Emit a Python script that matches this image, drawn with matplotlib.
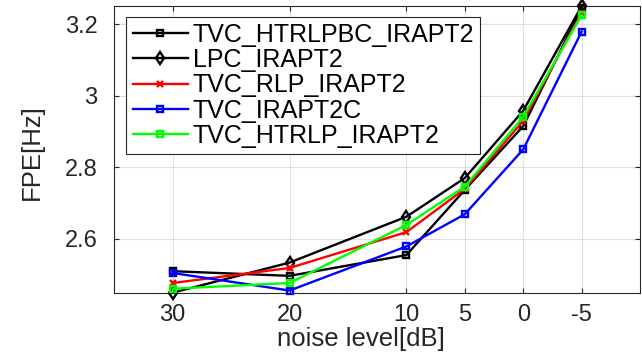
import numpy as np
import matplotlib
matplotlib.use('Agg')
import matplotlib.pyplot as plt
from matplotlib.ticker import FormatStrFormatter

plt.rcParams['font.family'] = ['Liberation Sans', 'DejaVu Sans']

# noise levels (SNR in dB), plotted from clean to noisy
snr = [30, 20, 10, 5, 0, -5]
snrLabels = ['30', '20', '10', '5', '0', '-5']

# FPE per method
fpe_htrlpbc = [2.510, 2.497, 2.555, 2.737, 2.915, 3.245]
fpe_lpc     = [2.450, 2.534, 2.662, 2.770, 2.958, 3.250]
fpe_rlp     = [2.477, 2.519, 2.619, 2.740, 2.930, 3.232]
fpe_irapt2c = [2.505, 2.456, 2.579, 2.669, 2.850, 3.179]
fpe_htrlp   = [2.461, 2.477, 2.639, 2.746, 2.941, 3.225]

series = [
    ('TVC_HTRLPBC_IRAPT2', fpe_htrlpbc, 'k', 's'),
    ('LPC_IRAPT2', fpe_lpc, 'k', 'd'),
    ('TVC_RLP_IRAPT2', fpe_rlp, (1, 0, 0), 'x'),
    ('TVC_IRAPT2C', fpe_irapt2c, (0, 0, 1), 's'),
    ('TVC_HTRLP_IRAPT2', fpe_htrlp, (0, 1, 0), 's'),
]

axColor = '0.15'

fig = plt.figure(figsize=(6.42, 3.6), dpi=100)
ax = fig.add_axes([0.178, 0.187, 0.819, 0.796])

# x axis runs from high SNR to low SNR, so plot against -snr
xpos = -np.array(snr)
for name, vals, col, mk in series:
    ax.plot(xpos, vals, color=col, lw=1.7, marker=mk,
            ms=6 if mk == 'd' else 5, mfc='none', mec=col, mew=1.7,
            label=name, clip_on=False, zorder=3)

ax.set_xlim(-35, 10)
ax.set_ylim(2.45, 3.25)
ax.set_xticks(xpos)
ax.set_xticklabels(snrLabels)
ax.set_yticks([2.6, 2.8, 3.0, 3.2])
ax.yaxis.set_major_formatter(FormatStrFormatter('%g'))

ax.grid(True, color='0.88', lw=0.8)
ax.set_axisbelow(True)
for sp in ax.spines.values():
    sp.set_color(axColor)
    sp.set_linewidth(0.8)
ax.tick_params(direction='in', length=3.6, width=0.8, colors=axColor,
               labelsize=17, top=True, right=True)
ax.tick_params(axis='x', pad=8)
ax.tick_params(axis='y', pad=12)

ax.set_xlabel('noise level[dB]', fontsize=18.5, color=axColor)
ax.set_ylabel('FPE[Hz]', fontsize=18.5, color=axColor)
ax.xaxis.set_label_coords(0.47, -0.12)
ax.yaxis.set_label_coords(-0.133, 0.49)

leg = ax.legend(loc='upper left', bbox_to_anchor=(0.023, 0.963),
                borderaxespad=0, fontsize=18, handlelength=2.2,
                handletextpad=0.2, labelspacing=0.05, borderpad=0.25,
                fancybox=False, framealpha=1, edgecolor=axColor)
leg.get_frame().set_linewidth(0.8)
leg.set_zorder(5)

fig.savefig('out.png', dpi=100)
